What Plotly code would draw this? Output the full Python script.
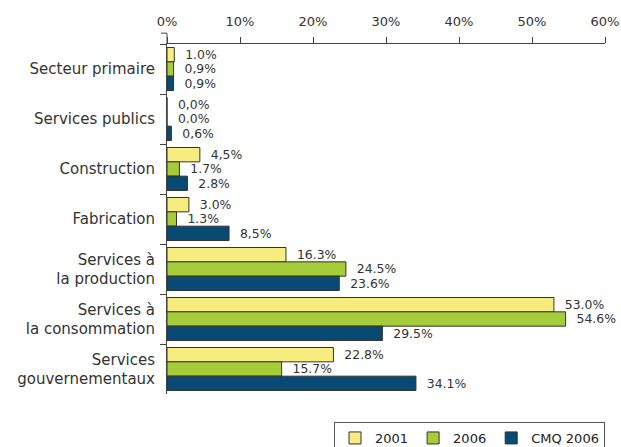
import plotly.graph_objects as go

categories = ["Secteur primaire", "Services publics", "Construction", "Fabrication",
              "Services à<br>la production", "Services à<br>la consommation",
              "Services<br>gouvernementaux"]
series_names = ["2001", "2006", "CMQ 2006"]
v2001 = [1.0, 0.0, 4.5, 3.0, 16.3, 53.0, 22.8]
v2006 = [0.9, 0.0, 1.7, 1.3, 24.5, 54.6, 15.7]
vcmq = [0.9, 0.6, 2.8, 8.5, 23.6, 29.5, 34.1]
lab2001 = ["1.0%", "0,0%", "4,5%", "3.0%", "16.3%", "53.0%", "22.8%"]
lab2006 = ["0,9%", "0.0%", "1.7%", "1.3%", "24.5%", "54.6%", "15.7%"]
labcmq = ["0,9%", "0,6%", "2.8%", "8,5%", "23.6%", "29.5%", "34.1%"]
x_ticks = [0, 10, 20, 30, 40, 50, 60]
x_tick_labels = ["0%", "10%", "20%", "30%", "40%", "50%", "60%"]

colors = ["#F7EC80", "#A5CD39", "#074A74"]
pad = "\u00a0\u00a0"

fig = go.Figure()
for name, vals, labs, col in zip(series_names, [v2001, v2006, vcmq],
                                 [lab2001, lab2006, labcmq], colors):
    fig.add_trace(go.Bar(
        y=categories, x=vals, name=name, orientation="h",
        marker=dict(color=col, line=dict(color="#333333", width=1)),
        text=[pad + t for t in labs], textposition="outside",
        textfont=dict(family="DejaVu Sans", size=13, color="#333333"),
        cliponaxis=False,
    ))

fig.update_layout(
    barmode="group", bargap=0.14, bargroupgap=0,
    width=621, height=447,
    margin=dict(l=167, r=16, t=44, b=53, autoexpand=False),
    plot_bgcolor="white", paper_bgcolor="white",
    font=dict(family="DejaVu Sans", size=14, color="#333333"),
    showlegend=True,
    legend=dict(orientation="h", x=1.0, xanchor="right", y=-0.08, yanchor="top",
                bordercolor="#555555", borderwidth=1,
                font=dict(size=13, color="#222222"), tracegroupgap=0),
    xaxis=dict(side="top", range=[0, 60], tickvals=x_ticks, ticktext=x_tick_labels,
               showgrid=False, zeroline=False, showline=True, linecolor="#444444",
               linewidth=1, ticks="outside", ticklen=6, tickcolor="#444444",
               automargin=False, ticklabelstandoff=6,
               tickfont=dict(size=13, color="#333333")),
    yaxis=dict(autorange="reversed", showgrid=False, zeroline=False,
               showline=True, linecolor="#444444", linewidth=1,
               ticks="outside", ticklen=6, tickcolor="#444444",
               tickson="boundaries", ticklabelstandoff=8, automargin=False,
               tickfont=dict(size=15, color="#333333")),
    shapes=[
        dict(type="line", xref="paper", yref="paper", x0=0, x1=0, y0=1, y1=1.031,
             line=dict(color="#444444", width=1)),
        dict(type="line", xref="paper", yref="paper", x0=-0.0137, x1=0, y0=1.031, y1=1.031,
             line=dict(color="#444444", width=1)),
    ],
)

fig.write_html("out.html", config={"displayModeBar": False},
               post_script="document.body.style.margin='0';document.body.style.overflow='hidden';")
